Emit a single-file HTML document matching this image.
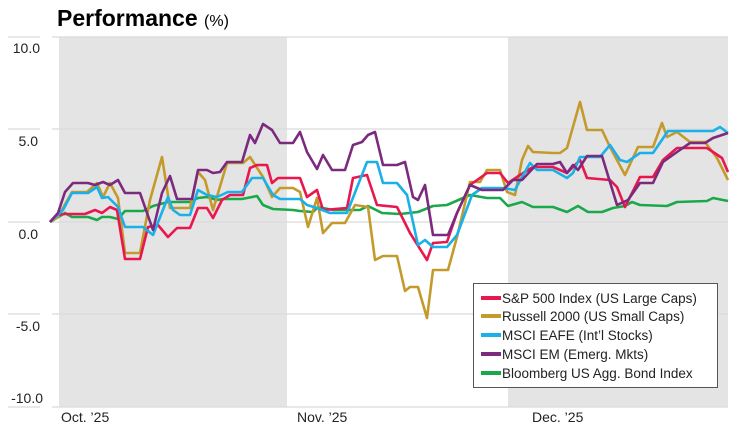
<!DOCTYPE html>
<html><head><meta charset="utf-8"><style>
html,body{margin:0;padding:0;background:#fff;width:739px;height:429px;overflow:hidden}
svg{display:block;font-family:"Liberation Sans",sans-serif}
</style></head><body>
<svg width="739" height="429" xmlns="http://www.w3.org/2000/svg">
<rect x="59" y="37" width="228" height="370" fill="#e4e4e4"/>
<rect x="508" y="37" width="220" height="370" fill="#e4e4e4"/>
<g stroke="#d9d9d9" stroke-width="1.2">
<line x1="8" y1="37" x2="40" y2="37"/><line x1="52" y1="37" x2="728" y2="37"/>
<line x1="8" y1="129" x2="40" y2="129"/><line x1="52" y1="129" x2="728" y2="129"/>
<line x1="8" y1="222" x2="40" y2="222"/><line x1="52" y1="222" x2="728" y2="222"/>
<line x1="8" y1="314" x2="40" y2="314"/><line x1="52" y1="314" x2="728" y2="314"/>
<line x1="8" y1="407" x2="40" y2="407"/><line x1="52" y1="407" x2="728" y2="407"/>
</g>
<text x="57" y="26" font-size="23" font-weight="bold" fill="#000">Performance <tspan font-size="16" font-weight="normal">(%)</tspan></text>
<g font-size="14" fill="#222" text-anchor="end">
<text x="40" y="53">10.0</text><text x="38" y="146">5.0</text><text x="38" y="239">0.0</text><text x="40" y="331">-5.0</text><text x="43" y="403">-10.0</text>
</g>
<g font-size="14" fill="#222">
<text x="61" y="422">Oct. ’25</text><text x="297" y="422">Nov. ’25</text><text x="532" y="422">Dec. ’25</text>
</g>
<g fill="none" stroke-width="2.6" stroke-linejoin="round">
<polyline stroke="#1aa84a" points="50,222 65,213 72,217 88,217 97,220 102,217 110,217 118,219 125,211 143,211 153,206 168,202 190,202 198,198 207,197 217,200 223,199 242,199 257,196 263,205 273,209 293,210 300,211 313,212 318,207 333,210 360,210 368,206 382,213 400,214 418,212 433,206 447,205 470,195 487,198 500,198 508,206 522,202 533,207 553,207 567,212 578,206 588,212 602,212 613,208 625,206 632,202 640,205 667,206 677,202 707,201 713,198 728,201"/>
<polyline stroke="#c49a2c" points="50,222 58,217 72,192 87,192 97,183 103,197 110,183 118,198 125,253 140,253 150,200 162,157 170,208 190,208 198,172 205,180 213,210 227,163 243,163 250,157 263,177 272,197 280,188 293,188 300,192 308,227 317,198 323,233 332,223 345,223 355,205 368,207 375,260 383,256 397,256 405,291 410,287 418,287 427,318 433,270 448,270 457,237 470,182 480,182 487,170 500,170 507,192 515,195 522,160 528,146 533,152 553,153 560,153 567,148 580,102 587,130 602,130 610,147 625,175 638,147 653,147 662,123 667,137 677,132 690,142 705,142 717,158 728,180"/>
<polyline stroke="#e8174f" points="50,222 57,215 65,214 85,214 95,210 102,213 110,207 117,210 125,259 140,259 148,227 158,225 168,237 177,228 190,228 198,208 207,208 213,218 222,200 230,195 243,195 250,168 257,165 267,165 272,183 278,178 300,178 307,197 317,190 323,210 347,208 353,178 367,175 377,205 397,207 410,233 427,260 433,243 447,242 457,213 470,185 487,173 500,173 508,183 520,175 533,167 553,167 567,173 580,160 587,178 610,180 617,187 625,207 640,177 653,177 663,160 677,148 707,148 722,158 728,172"/>
<polyline stroke="#1ab0e8" points="50,222 63,210 72,193 88,193 97,187 102,198 108,197 118,207 125,227 143,227 153,235 168,197 173,210 180,215 190,215 198,190 207,195 217,197 228,192 242,192 252,178 263,178 273,195 280,199 300,199 307,205 317,208 330,213 347,213 367,162 377,162 383,183 397,183 407,195 418,245 425,240 433,247 447,247 457,235 472,195 482,188 503,188 515,190 522,177 530,163 537,170 553,170 567,178 573,173 580,157 600,157 610,145 620,160 627,162 640,153 653,153 668,131 713,131 720,127 728,133"/>
<polyline stroke="#7b2a7e" points="50,222 58,213 65,192 73,183 88,183 95,185 103,182 110,185 118,180 125,193 140,193 153,230 162,193 170,176 177,199 192,199 198,170 207,170 213,173 220,172 227,162 242,162 250,135 255,143 263,124 272,130 280,143 293,143 300,132 307,152 317,169 323,155 332,170 345,170 353,145 362,142 368,135 375,132 383,165 397,165 405,162 413,197 418,200 425,185 433,235 448,235 457,213 470,185 482,190 503,190 513,180 522,180 537,164 553,164 560,162 567,173 573,165 578,170 587,156 602,156 617,205 628,200 640,183 653,183 663,162 677,152 690,143 705,143 713,138 728,133"/>
</g>
<rect x="473.5" y="283.5" width="244" height="104" fill="#fff" stroke="#555" stroke-width="1"/>
<g stroke-width="4">
<line x1="481" y1="298" x2="501" y2="298" stroke="#e8174f"/>
<line x1="481" y1="316" x2="501" y2="316" stroke="#c49a2c"/>
<line x1="481" y1="335" x2="501" y2="335" stroke="#1ab0e8"/>
<line x1="481" y1="354" x2="501" y2="354" stroke="#7b2a7e"/>
<line x1="481" y1="373" x2="501" y2="373" stroke="#1aa84a"/>
</g>
<g font-size="13.5" fill="#222">
<text x="502" y="303">S&amp;P 500 Index (US Large Caps)</text>
<text x="502" y="321">Russell 2000 (US Small Caps)</text>
<text x="502" y="340">MSCI EAFE (Int’l Stocks)</text>
<text x="502" y="359">MSCI EM (Emerg. Mkts)</text>
<text x="502" y="378">Bloomberg US Agg. Bond Index</text>
</g>
</svg>
</body></html>
